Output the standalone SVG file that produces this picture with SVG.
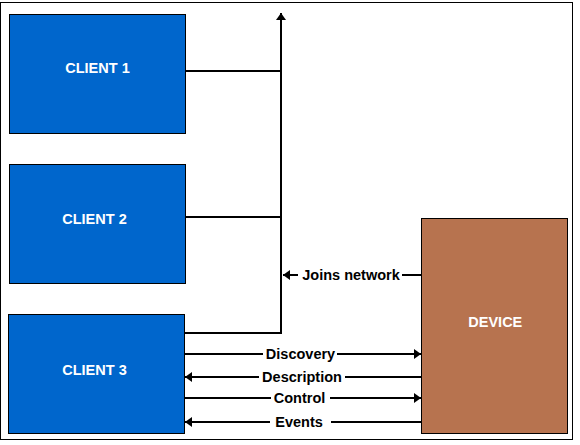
<svg xmlns="http://www.w3.org/2000/svg" width="580" height="445" viewBox="0 0 580 445">
<style>
.client{fill:#0066CC;stroke:#000;stroke-width:1}
.device{fill:#B7734F;stroke:#000;stroke-width:1}
.nl{font-family:"Liberation Sans",Arial,sans-serif;font-weight:bold;font-size:14.5px;fill:#fff;text-anchor:middle}
.lbl{font-family:"Liberation Sans",Arial,sans-serif;font-weight:bold;font-size:14.5px;fill:#000;text-anchor:middle}
.ln{fill:none;stroke:#000;stroke-width:2}
.bg{fill:#fff}
</style>
<defs>
<marker id="ah" markerUnits="userSpaceOnUse" markerWidth="7" markerHeight="10" refX="7" refY="5" orient="auto">
<path d="M0,0 L7,5 L0,10 z" fill="#000"/>
</marker>
</defs>
<rect x="0.5" y="2.5" width="572" height="437" fill="#fff" stroke="#000" stroke-width="1"/>
<g id="connectors">
<path class="ln" d="M281,333 V13" marker-end="url(#ah)"/>
<path class="ln" d="M185,71 H281"/>
<path class="ln" d="M185,217 H281"/>
<path class="ln" d="M184,333 H282"/>
<path class="ln" d="M421,275 H283" marker-end="url(#ah)"/>
<rect class="bg" x="298" y="266" width="104" height="18"/>
<text class="lbl" x="351" y="280">Joins network</text>
<path class="ln" d="M185,354 H421" marker-end="url(#ah)"/>
<rect class="bg" x="263" y="345" width="74" height="18"/>
<text class="lbl" x="300.5" y="359">Discovery</text>
<path class="ln" d="M421,377 H185" marker-end="url(#ah)"/>
<rect class="bg" x="259" y="368" width="86" height="18"/>
<text class="lbl" x="302" y="382">Description</text>
<path class="ln" d="M185,398 H421" marker-end="url(#ah)"/>
<rect class="bg" x="271" y="389" width="59" height="18"/>
<text class="lbl" x="299.5" y="403">Control</text>
<path class="ln" d="M421,422 H185" marker-end="url(#ah)"/>
<rect class="bg" x="270" y="413" width="61" height="18"/>
<text class="lbl" x="299" y="427">Events</text>
</g>
<g id="client1">
<rect class="client" x="9.5" y="14.5" width="176" height="119"/>
<text class="nl" x="97.5" y="72.5">CLIENT 1</text>
</g>
<g id="client2">
<rect class="client" x="9.5" y="164.5" width="176" height="119"/>
<text class="nl" x="94.5" y="224">CLIENT 2</text>
</g>
<g id="client3">
<rect class="client" x="8.5" y="314.5" width="176" height="119"/>
<text class="nl" x="94.5" y="375">CLIENT 3</text>
</g>
<g id="device">
<rect class="device" x="421.5" y="218.5" width="146" height="215"/>
<text class="nl" x="495.3" y="327">DEVICE</text>
</g>
</svg>
